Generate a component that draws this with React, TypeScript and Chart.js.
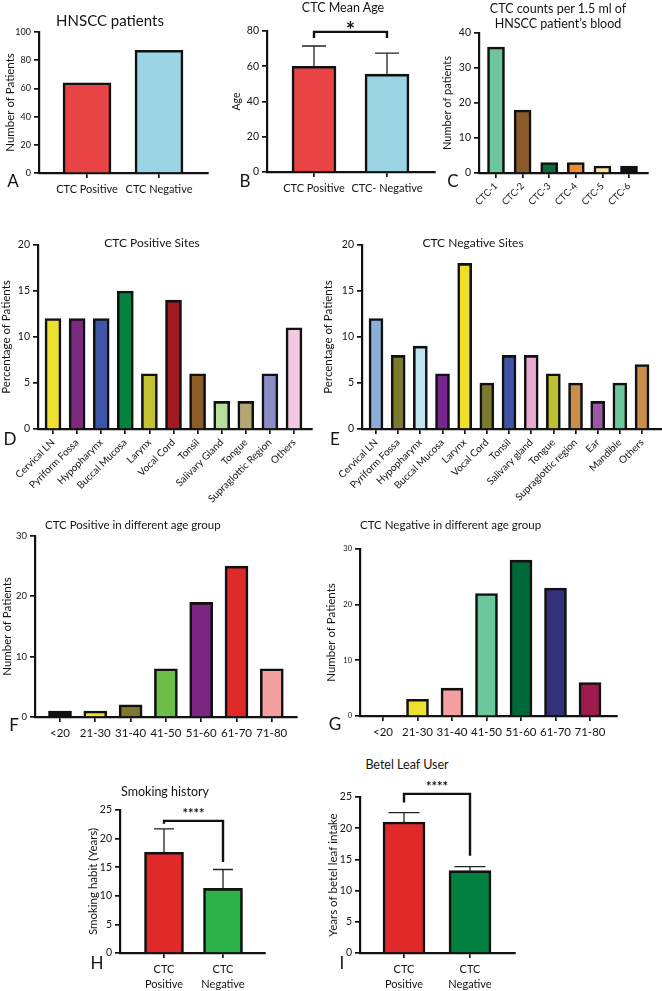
import React, { useEffect, useRef } from 'react';
import { Chart, registerables } from 'chart.js';
Chart.register(...registerables);

const FONT = 'Lato, "Open Sans", sans-serif';
const INK = '#141414';

// ---------- DATA ----------
const aLabels = ['CTC Positive', 'CTC Negative'];
const aValues = [64, 87];
const aColors = ['#E84446', '#9BD5E4'];

const bLabels = ['CTC Positive', 'CTC- Negative'];
const bMeans = [60, 55.5];
const bSD = [11.5, 12];
const bColors = ['#E84446', '#9BD5E4'];

const cLabels = ['CTC-1', 'CTC-2', 'CTC-3', 'CTC-4', 'CTC-5', 'CTC-6'];
const cValues = [36, 18, 3, 3, 2, 2];
const cColors = ['#6CC59B', '#8B5A2B', '#0B6B3A', '#F08A30', '#F6E7A0', '#111111'];

const dLabels = ['Cervical LN', 'Pyriform Fossa', 'Hypopharynx', 'Buccal Mucosa', 'Larynx', 'Vocal Cord', 'Tonsil', 'Salivary Gland', 'Tongue', 'Supraglottic Region', 'Others'];
const dValues = [12, 12, 12, 15, 6, 14, 6, 3, 3, 6, 11];
const dColors = ['#EEE02E', '#7B2A80', '#3E56A8', '#00833F', '#C2C234', '#A01C22', '#8E5C28', '#B6DE9C', '#B4A672', '#8A8DC8', '#F3C9E2'];

const eLabels = ['Cervical LN', 'Pyriform Fossa', 'Hypopharynx', 'Buccal Mucosa', 'Larynx', 'Vocal Cord', 'Tonsil', 'Salivary gland', 'Tongue', 'Supraglottic region', 'Ear', 'Mandible', 'Others'];
const eValues = [12, 8, 9, 6, 18, 5, 8, 8, 6, 5, 3, 5, 7];
const eColors = ['#8AAED9', '#7B7B30', '#BFE6EF', '#76278F', '#EEE02A', '#7B7B30', '#3E55A5', '#E8A9D0', '#BFBF30', '#C8904C', '#9B59A8', '#6CC89C', '#C8904C'];

const ageLabels = ['<20', '21-30', '31-40', '41-50', '51-60', '61-70', '71-80'];
const fValues = [1, 1, 2, 8, 19, 25, 8];
const fColors = ['#111111', '#EEE02E', '#7B7B30', '#6CC04A', '#7B2480', '#E02A2A', '#F4A0A2'];
const gValues = [0, 3, 5, 22, 28, 23, 6];
const gColors = ['#EEE02E', '#EEE02E', '#F4A0A2', '#6CC89C', '#00693A', '#35307A', '#9B1B4A'];

const hLabels = [['CTC', 'Positive'], ['CTC', 'Negative']];
const hMeans = [17.6, 11.3];
const hSD = [4.1, 3.3];
const hColors = ['#E02A2A', '#2DB34A'];

const iLabels = [['CTC', 'Positive'], ['CTC', 'Negative']];
const iMeans = [21, 13.2];
const iSD = [1.5, 0.65];
const iColors = ['#E02A2A', '#00813F'];

// significance brackets: [left end level, bracket level, right end level]
const bBracket = [76, 79.5, 76];
const hBracket = [22.6, 23.1, 15.9];
const iBracket = [24.1, 25.5, 15.6];

// ---------- TYPES ----------
type Box = {
  L: number; R: number; T: number; B: number;
  tick0: number; step: number; barW: number;
  yTitleX: number; yTitleSize: number; yTick: number; xTick: number;
  rot: number; padTop: number; padR: number; xH: number; capW?: number;
  xPad?: number;
};
type Spec = {
  labels: (string | string[])[];
  values: number[];
  colors: string[];
  err?: number[];
  bracket?: number[];
  stars?: string;
  starSize?: number;
  starDy?: number;
  yMax: number; yStep: number;
  yTitle: string;
  box: Box;
};

function geom(b: Box) {
  const lh = b.yTitleSize * 1.2;
  const left = Math.round(b.yTitleX - lh / 2);
  const yW = b.L - left;
  const top = b.T - b.padTop;
  const width = b.R - left + b.padR;
  const height = b.B - top + b.xH;
  return { left, top, width, height, yW };
}

function makeOverlay(spec: Spec) {
  return {
    id: 'overlay',
    afterDatasetsDraw(chart: any) {
      const { ctx } = chart;
      const x = chart.scales.x;
      const y = chart.scales.y;
      ctx.save();
      ctx.strokeStyle = '#222';
      ctx.lineWidth = 1.3;
      if (spec.err) {
        const cap = (spec.box.capW || 16) / 2;
        spec.err.forEach((e, i) => {
          const px = x.getPixelForValue(i);
          const y0 = y.getPixelForValue(spec.values[i]);
          const y1 = y.getPixelForValue(spec.values[i] + e);
          ctx.beginPath();
          ctx.moveTo(px, y0);
          ctx.lineTo(px, y1);
          ctx.moveTo(px - cap, y1);
          ctx.lineTo(px + cap, y1);
          ctx.stroke();
        });
      }
      if (spec.bracket) {
        const [l, m, r] = spec.bracket;
        const x0 = x.getPixelForValue(0);
        const x1 = x.getPixelForValue(1);
        const ym = y.getPixelForValue(m);
        ctx.strokeStyle = '#111';
        ctx.lineWidth = 2.4;
        ctx.beginPath();
        ctx.moveTo(x0, y.getPixelForValue(l));
        ctx.lineTo(x0, ym);
        ctx.lineTo(x1, ym);
        ctx.lineTo(x1, y.getPixelForValue(r));
        ctx.stroke();
        ctx.fillStyle = '#111';
        ctx.font = `bold ${spec.starSize || 13}px ${FONT}`;
        ctx.textAlign = 'center';
        ctx.textBaseline = 'alphabetic';
        ctx.fillText(spec.stars || '*', (x0 + x1) / 2, ym + (spec.starDy || 0));
      }
      ctx.restore();
    },
  };
}

function Panel({ spec }: { spec: Spec }) {
  const ref = useRef<HTMLCanvasElement>(null);
  const b = spec.box;
  const g = geom(b);
  useEffect(() => {
    const tickGrid = { display: true, drawOnChartArea: false, drawTicks: true, tickLength: 5, color: '#111', lineWidth: 1.7, offset: false };
    const chart = new Chart(ref.current as HTMLCanvasElement, {
      type: 'bar',
      data: {
        datasets: [{
          data: spec.values.map((v, i) => ({ x: i, y: v })),
          backgroundColor: spec.colors,
          borderColor: '#111',
          borderWidth: 2.6,
          borderSkipped: 'start',
          barThickness: b.barW,
        }],
      },
      options: {
        responsive: false,
        maintainAspectRatio: false,
        animation: false,
        events: [],
        layout: { padding: { top: b.padTop, right: b.padR, left: 0, bottom: 0 } },
        plugins: { legend: { display: false }, tooltip: { enabled: false }, title: { display: false } },
        scales: {
          x: {
            type: 'linear',
            offset: false,
            min: (b.L - b.tick0) / b.step,
            max: (b.R - b.tick0) / b.step,
            afterBuildTicks: (s: any) => { s.ticks = spec.labels.map((_, i) => ({ value: i })); },
            afterFit: (s: any) => { s.height = b.xH; s.paddingLeft = 0; s.paddingRight = 0; },
            ticks: {
              autoSkip: false,
              maxRotation: b.rot,
              minRotation: b.rot,
              padding: b.xPad ?? 4,
              color: INK,
              font: { family: FONT, size: b.xTick, lineHeight: 1.35 },
              callback: (v: any) => spec.labels[v] ?? '',
            },
            grid: tickGrid,
            border: { display: true, color: '#111', width: 2.2 },
          },
          y: {
            min: 0,
            max: spec.yMax,
            afterFit: (s: any) => { s.width = g.yW; s.paddingTop = 0; s.paddingBottom = 0; },
            ticks: { stepSize: spec.yStep, padding: 3, color: INK, font: { family: FONT, size: b.yTick } },
            grid: tickGrid,
            border: { display: true, color: '#111', width: 2.2 },
            title: { display: true, text: spec.yTitle, color: INK, padding: 0, font: { family: FONT, size: b.yTitleSize } },
          },
        },
      } as any,
      plugins: [makeOverlay(spec)],
    });
    return () => chart.destroy();
  }, []);
  return (
    <canvas
      ref={ref}
      width={g.width}
      height={g.height}
      style={{ position: 'absolute', left: g.left, top: g.top, width: g.width, height: g.height }}
    />
  );
}

const specs: Spec[] = [
  {
    labels: aLabels, values: aValues, colors: aColors, yMax: 100, yStep: 20, yTitle: 'Number of Patients',
    box: { L: 39, R: 208, T: 32, B: 173, tick0: 87, step: 72, barW: 48, yTitleX: 10, yTitleSize: 11.5, yTick: 9, xTick: 11, rot: 0, padTop: 8, padR: 6, xH: 30 },
  },
  {
    labels: bLabels, values: bMeans, err: bSD, colors: bColors, yMax: 80, yStep: 20, yTitle: 'Age',
    bracket: bBracket, stars: '*', starSize: 22, starDy: 6,
    box: { L: 267, R: 435, T: 31, B: 172, tick0: 314, step: 73, barW: 44, yTitleX: 236, yTitleSize: 10.5, yTick: 10.5, xTick: 11, rot: 0, padTop: 28, padR: 4, xH: 30, capW: 24 },
  },
  {
    labels: cLabels, values: cValues, colors: cColors, yMax: 40, yStep: 10, yTitle: 'Number of patients',
    box: { L: 479, R: 648, T: 33, B: 173, tick0: 496, step: 26.6, barW: 17, yTitleX: 448, yTitleSize: 11, yTick: 10.5, xTick: 9.5, rot: 45, padTop: 8, padR: 10, xH: 40, xPad: 2 },
  },
  {
    labels: dLabels, values: dValues, colors: dColors, yMax: 20, yStep: 5, yTitle: 'Percentage of Patients',
    box: { L: 38, R: 312, T: 245, B: 429, tick0: 53, step: 24.1, barW: 16, yTitleX: 6, yTitleSize: 11.5, yTick: 10.5, xTick: 10, rot: 45, padTop: 8, padR: 8, xH: 85, xPad: 2 },
  },
  {
    labels: eLabels, values: eValues, colors: eColors, yMax: 20, yStep: 5, yTitle: 'Percentage of Patients',
    box: { L: 362, R: 662, T: 245, B: 429, tick0: 376, step: 22.17, barW: 14, yTitleX: 328, yTitleSize: 11.5, yTick: 10.5, xTick: 10, rot: 45, padTop: 8, padR: 0, xH: 85, xPad: 2 },
  },
  {
    labels: ageLabels, values: fValues, colors: fColors, yMax: 30, yStep: 10, yTitle: 'Number of Patients',
    box: { L: 35, R: 297, T: 536, B: 717, tick0: 60, step: 35.3, barW: 23, yTitleX: 7, yTitleSize: 11.5, yTick: 9.5, xTick: 11.5, rot: 0, padTop: 8, padR: 8, xH: 25 },
  },
  {
    labels: ageLabels, values: gValues, colors: gColors, yMax: 30, yStep: 10, yTitle: 'Number of Patients',
    box: { L: 360, R: 617, T: 549, B: 716, tick0: 383, step: 34.5, barW: 22, yTitleX: 331, yTitleSize: 11.5, yTick: 7.5, xTick: 11.5, rot: 0, padTop: 8, padR: 8, xH: 25 },
  },
  {
    labels: hLabels, values: hMeans, err: hSD, colors: hColors, yMax: 25, yStep: 5, yTitle: 'Smoking habit (Years)',
    bracket: hBracket, stars: '****', starSize: 13, starDy: -3,
    box: { L: 120, R: 265, T: 810, B: 953, tick0: 164, step: 59, barW: 39, yTitleX: 93, yTitleSize: 11.5, yTick: 10.5, xTick: 11, rot: 0, padTop: 20, padR: 6, xH: 38, capW: 20 },
  },
  {
    labels: iLabels, values: iMeans, err: iSD, colors: iColors, yMax: 25, yStep: 5, yTitle: 'Years of betel leaf intake',
    bracket: iBracket, stars: '****', starSize: 13, starDy: -3,
    box: { L: 360, R: 515, T: 797, B: 953, tick0: 404, step: 66, barW: 42, yTitleX: 333, yTitleSize: 11.5, yTick: 10.5, xTick: 11, rot: 0, padTop: 24, padR: 6, xH: 38, capW: 31 },
  },
];

type Txt = { t: string; x: number; y: number; size: number; align?: 'left' | 'center' };
const texts: Txt[] = [
  { t: 'HNSCC patients', x: 110, y: 20, size: 15 },
  { t: 'CTC Mean Age', x: 343, y: 8, size: 12.5 },
  { t: 'CTC counts per 1.5 ml of', x: 558, y: 9, size: 12.5 },
  { t: 'HNSCC patient\u2019s blood', x: 558, y: 24, size: 12.5 },
  { t: 'CTC Positive Sites', x: 152, y: 243, size: 12 },
  { t: 'CTC Negative Sites', x: 473, y: 243, size: 12 },
  { t: 'CTC Positive in different age group', x: 45, y: 525, size: 11.5, align: 'left' },
  { t: 'CTC Negative in different age group', x: 360, y: 525, size: 11.5, align: 'left' },
  { t: 'Smoking history', x: 165, y: 792, size: 12.5 },
  { t: 'Betel Leaf User', x: 407, y: 765, size: 12.5 },
  { t: 'A', x: 13, y: 180, size: 17 },
  { t: 'B', x: 245, y: 180, size: 17 },
  { t: 'C', x: 453, y: 180, size: 17 },
  { t: 'D', x: 10, y: 438, size: 17 },
  { t: 'E', x: 335, y: 438, size: 17 },
  { t: 'F', x: 14, y: 724, size: 17 },
  { t: 'G', x: 335, y: 723, size: 17 },
  { t: 'H', x: 97, y: 962, size: 17 },
  { t: 'I', x: 342, y: 962, size: 17 },
];

const BOXW = 300;

export default function App() {
  return (
    <div style={{ position: 'absolute', left: 0, top: 0, width: 662, height: 991, overflow: 'hidden', background: '#fff', fontFamily: FONT, color: INK }}>
      {specs.map((s, i) => <Panel key={i} spec={s} />)}
      {texts.map((d, i) => {
        const left = d.align === 'left' ? d.x : d.x - BOXW / 2;
        return (
          <div
            key={'t' + i}
            style={{
              position: 'absolute', left, top: d.y - d.size / 2, width: BOXW, height: d.size,
              fontSize: d.size, lineHeight: `${d.size}px`, whiteSpace: 'nowrap',
              textAlign: d.align === 'left' ? 'left' : 'center',
            }}
          >
            {d.t}
          </div>
        );
      })}
    </div>
  );
}
